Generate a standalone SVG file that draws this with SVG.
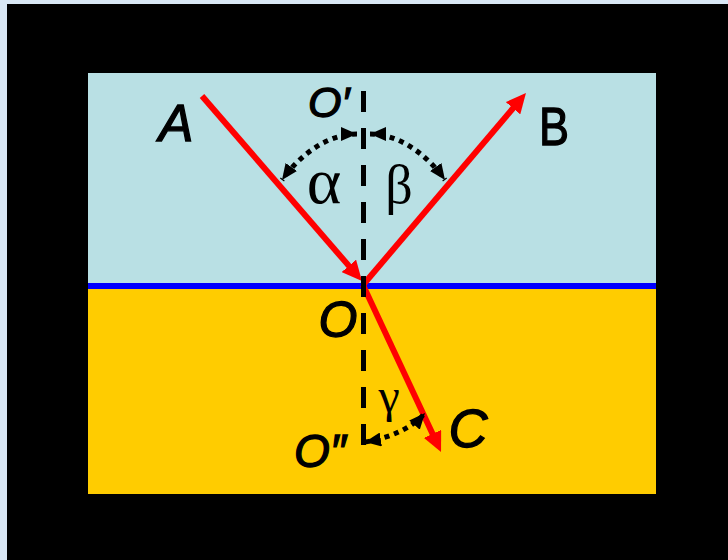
<svg xmlns="http://www.w3.org/2000/svg" width="728" height="560" viewBox="0 0 728 560">
  <defs>
    <style>
      .ray { stroke: #ff0000; stroke-width: 6; fill: none; marker-end: url(#redArrow); }
      .angle { stroke: #000; stroke-width: 5; stroke-dasharray: 5 5; fill: none; marker-start: url(#blackArrow); marker-end: url(#blackArrow); }
      .lbl { font-family: "Comic Sans MS", "Liberation Sans", "DejaVu Sans", sans-serif; fill: #000; stroke: #000; stroke-width: 1.3; }
      .greek { font-family: "Liberation Serif", "DejaVu Serif", serif; fill: #000; }
    </style>
    <marker id="redArrow" markerUnits="userSpaceOnUse" markerWidth="20" markerHeight="19" refX="6" refY="9.5" orient="auto" viewBox="0 0 20 19">
      <path d="M0,0 L20,9.5 L0,19 z" fill="#ff0000"/>
    </marker>
    <marker id="blackArrow" markerUnits="userSpaceOnUse" markerWidth="16" markerHeight="14" refX="16" refY="7" orient="auto-start-reverse" viewBox="0 0 16 14">
      <path d="M0,0 L16,7 L0,14 z" fill="#000"/>
    </marker>
  </defs>

  <g id="background">
    <rect x="0" y="0" width="728" height="560" fill="#d9e7f5"/>
    <rect x="7" y="4" width="721" height="556" fill="#000"/>
  </g>

  <g id="media">
    <rect id="upper-medium" x="88" y="73" width="568" height="210" fill="#b9e0e4"/>
    <rect id="lower-medium" x="88" y="289" width="568" height="205" fill="#ffcc00"/>
    <rect id="interface" x="88" y="283" width="568" height="6" fill="#0000ff"/>
  </g>

  <g id="connectors">
    <line id="ray-AO" class="ray" x1="202" y1="96" x2="352.8" y2="270.4"/>
    <line id="ray-OB" class="ray" x1="363" y1="285" x2="516.9" y2="103.7"/>
    <line id="ray-OC" class="ray" x1="363" y1="285" x2="435.1" y2="439.3"/>
    <line id="normal" x1="363.5" y1="91" x2="363.5" y2="446" stroke="#000" stroke-width="5" stroke-dasharray="21 16"/>
    <path id="arc-alpha" class="angle" d="M357,134 C330,134 302,152 282,180"/>
    <path id="arc-beta" class="angle" d="M370,134 C397,134 425,152 445,180"/>
    <path id="arc-gamma" class="angle" d="M365,442 C390,438 412,428 425,413"/>
  </g>

  <g id="labels">
    <g id="label-A"><text class="lbl" x="176" y="141" font-size="52" font-style="italic" text-anchor="middle">A</text></g>
    <g id="label-B"><text class="lbl" x="554" y="145" font-size="54" text-anchor="middle" textLength="30" lengthAdjust="spacingAndGlyphs">B</text></g>
    <g id="label-O1"><text class="lbl" x="308" y="117" font-size="43" font-style="italic">O′</text></g>
    <g id="label-O"><text class="lbl" x="338" y="337" font-size="50" font-style="italic" text-anchor="middle">O</text></g>
    <g id="label-O2"><text class="lbl" x="294" y="467" font-size="46" font-style="italic">O″</text></g>
    <g id="label-C"><text class="lbl" x="468" y="447" font-size="54" font-style="italic" text-anchor="middle">C</text></g>
    <g id="label-alpha"><text class="greek" x="324" y="203" font-size="66" text-anchor="middle">α</text></g>
    <g id="label-beta"><text class="greek" x="399" y="203" font-size="54" text-anchor="middle">β</text></g>
    <g id="label-gamma"><text class="greek" x="389" y="412" font-size="48" text-anchor="middle">γ</text></g>
  </g>
</svg>
